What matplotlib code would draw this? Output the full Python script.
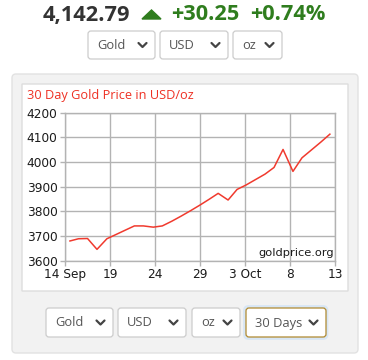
import matplotlib
matplotlib.use("Agg")
import matplotlib.pyplot as plt
from matplotlib.patches import FancyBboxPatch, Polygon
from matplotlib.lines import Line2D

# ---- data ----
days = [0.55, 1.5, 2.5, 3.55, 4.65, 5.65, 6.7, 7.7, 8.7, 9.8, 10.8, 11.85, 12.9,
        13.95, 15.0, 16.0, 17.0, 18.1, 19.1, 20.1, 21.15, 22.2, 23.2, 24.2, 25.3,
        26.3, 27.35, 28.4, 29.4]
prices = [3680, 3689, 3690, 3646, 3689, 3706, 3724, 3741, 3741, 3736, 3741, 3760,
          3781, 3803, 3826, 3849, 3873, 3846, 3889, 3907, 3929, 3951, 3978, 4051,
          3962, 4017, 4049, 4081, 4113]
xtick_pos = [0, 5, 10, 15, 20, 25, 30]
xtick_labels = ["14 Sep", "19", "24", "29", "3 Oct", "8", "13"]
ytick_vals = [3600, 3700, 3800, 3900, 4000, 4100, 4200]
price_text = "4,142.79"
change_text = "+30.25"
pct_text = "+0.74%"
title_text = "30 Day Gold Price in USD/oz"
top_selects = ["Gold", "USD", "oz"]
bottom_selects = ["Gold", "USD", "oz", "30 Days"]

W, H = 368, 360
fig = plt.figure(figsize=(W / 100, H / 100), dpi=100)
fig.patch.set_facecolor("white")


def fx(x):
    return x / W


def fy(y):
    return 1 - y / H


def box(x0, y0, x1, y1, fc, ec, lw=1.0, r=3, z=0):
    p = FancyBboxPatch((fx(x0), fy(y1)), fx(x1 - x0), (y1 - y0) / H,
                       boxstyle=f"round,pad=0,rounding_size={r / W}",
                       transform=fig.transFigure, facecolor=fc, edgecolor=ec,
                       linewidth=lw, zorder=z)
    fig.add_artist(p)


def chevron(cx, cy, color="#444444"):
    xs = [fx(cx - 4), fx(cx), fx(cx + 4)]
    ys = [fy(cy - 2), fy(cy + 2), fy(cy - 2)]
    fig.add_artist(Line2D(xs, ys, transform=fig.transFigure, color=color,
                          linewidth=1.6, solid_capstyle="round",
                          solid_joinstyle="round", zorder=5))


def select(x0, x1, y0, y1, label, ec="#cccccc"):
    box(x0, y0, x1, y1, "white", ec, lw=0.9, r=3, z=3)
    fig.text(fx(x0 + 9), fy((y0 + y1) / 2 + 0.5), label, fontsize=9.3,
             family="Open Sans", color="#555555", va="center", ha="left", zorder=6)
    chevron(x1 - 12.5, (y0 + y1) / 2)


# ---- header ----
fig.text(fx(43), fy(15), price_text, fontsize=15.7, family="Open Sans",
         weight="bold", color="#333333", va="center", ha="left")
tri = Polygon([[fx(142), fy(19)], [fx(161), fy(19)], [fx(151.5), fy(10)]],
              closed=True, transform=fig.transFigure, color="#2f7d1e")
fig.add_artist(tri)
fig.text(fx(171), fy(15), change_text, fontsize=15.7, family="Open Sans",
         weight="bold", color="#2f7d1e", va="center", ha="left")
fig.text(fx(250.5), fy(15), pct_text, fontsize=15.7, family="Open Sans",
         weight="bold", color="#2f7d1e", va="center", ha="left")

for (x0, x1), lab in zip([(88, 155), (160, 228), (233, 282)], top_selects):
    select(x0, x1, 31, 59, lab)

# ---- panel ----
box(12, 74, 358, 353, "#f2f2f2", "#e2e2e2", lw=1.0, r=4, z=0)
box(22, 84, 348, 291, "white", "#dddddd", lw=1.0, r=0, z=1)

fig.text(fx(27), fy(96), title_text, fontsize=9.2, family="Open Sans",
         color="#ee3124", va="center", ha="left", zorder=4)

ax = fig.add_axes([fx(65), fy(260.7), fx(335.3) - fx(65), (260.7 - 112.7) / H])
ax.set_zorder(4)
ax.set_facecolor("none")
ax.plot(days, prices, color="#f03a2e", linewidth=1.1, zorder=3)
ax.set_xlim(0, 30)
ax.set_ylim(3600, 4200)
ax.set_xticks(xtick_pos)
ax.set_xticklabels(xtick_labels)
ax.set_yticks(ytick_vals)
ax.grid(True, color="#b3b3b3", linewidth=1.0)
for s in ax.spines.values():
    s.set_color("#b3b3b3")
    s.set_linewidth(1.0)
ax.tick_params(axis="both", colors="#b3b3b3", labelcolor="#1a1a1a",
               labelsize=8.7, length=3.5, width=1.0, pad=2)
ax.text(0.997, 0.052, "goldprice.org", transform=ax.transAxes, fontsize=8.2,
        color="#1a1a1a", ha="right", va="center", zorder=2)

# ---- bottom selects ----
for (x0, x1), lab in zip([(46, 113), (118, 186), (192, 240)], bottom_selects[:3]):
    select(x0, x1, 308, 337, lab)
box(244.5, 306.5, 327, 338.5, "none", "#d8e6f5", lw=2.0, r=4, z=2)
select(246, 326, 308, 337, bottom_selects[3], ec="#b08a30")

fig.savefig("out.png", dpi=100, facecolor="white")
